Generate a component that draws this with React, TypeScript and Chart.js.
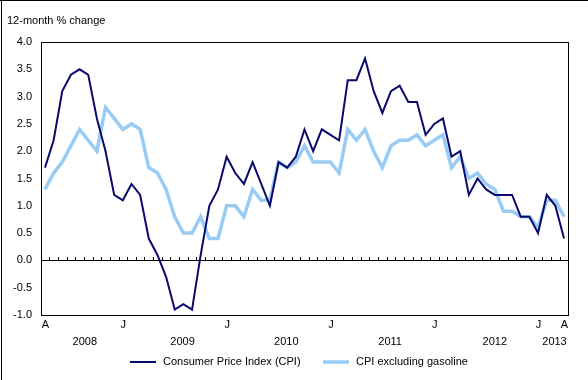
import React, { useEffect, useRef } from "react";
import { Chart, registerables } from "chart.js";

Chart.register(...registerables);

// Monthly values, April 2008 to April 2013 (12-month % change)
const cpi = [
  1.7, 2.2, 3.1, 3.4, 3.5, 3.4, 2.6, 2.0, 1.2,
  1.1, 1.4, 1.2, 0.4, 0.1, -0.3, -0.9, -0.8, -0.9, 0.1, 1.0, 1.3,
  1.9, 1.6, 1.4, 1.8, 1.4, 1.0, 1.8, 1.7, 1.9, 2.4, 2.0, 2.4,
  2.3, 2.2, 3.3, 3.3, 3.7, 3.1, 2.7, 3.1, 3.2, 2.9, 2.9, 2.3,
  2.5, 2.6, 1.9, 2.0, 1.2, 1.5, 1.3, 1.2, 1.2, 1.2, 0.8, 0.8,
  0.5, 1.2, 1.0, 0.4,
];
const cpiExGasoline = [
  1.3, 1.6, 1.8, 2.1, 2.4, 2.2, 2.0, 2.8, 2.6,
  2.4, 2.5, 2.4, 1.7, 1.6, 1.3, 0.8, 0.5, 0.5, 0.8, 0.4, 0.4,
  1.0, 1.0, 0.8, 1.3, 1.1, 1.1, 1.8, 1.7, 1.8, 2.1, 1.8, 1.8,
  1.8, 1.6, 2.4, 2.2, 2.4, 2.0, 1.7, 2.1, 2.2, 2.2, 2.3, 2.1,
  2.2, 2.3, 1.7, 1.9, 1.5, 1.6, 1.4, 1.3, 0.9, 0.9, 0.8, 0.8,
  0.6, 1.1, 1.1, 0.8,
];

const seriesNames = ["Consumer Price Index (CPI)", "CPI excluding gasoline"];
const seriesColors = ["#0a0a6e", "#99ccf5"];

// Month tick labels (index into monthly series)
const monthTickIndex = [0, 9, 21, 33, 45, 57, 60];
const monthTickText = ["A", "J", "J", "J", "J", "J", "A"];

// Year labels and their position along the month axis
const yearText = ["2008", "2009", "2010", "2011", "2012", "2013"];
const yearPos = [4.6, 15.9, 27.9, 39.9, 52.0, 58.9];

const yTitle = "12-month % change";
const FONT = "'Liberation Sans', Arial, sans-serif";

export default function App() {
  const ref = useRef<HTMLCanvasElement>(null);

  useEffect(() => {
    document.body.style.margin = "0";
    const canvas = ref.current;
    if (!canvas) return;

    const decor = {
      id: "decor",
      beforeDatasetsDraw(chart: any) {
        const { ctx, chartArea, scales } = chart;
        const { left, right, top, bottom } = chartArea;
        const x = scales.x;
        const y = scales.y;
        ctx.save();
        ctx.strokeStyle = "#000";
        ctx.lineWidth = 1;
        ctx.strokeRect(left + 0.5, top + 0.5, right - left, bottom - top);
        const y0 = Math.round(y.getPixelForValue(0)) + 0.5;
        ctx.beginPath();
        ctx.moveTo(left, y0);
        ctx.lineTo(right + 1, y0);
        for (let i = 0; i < cpi.length - 1; i++) {
          const px = Math.round(x.getPixelForValue(i + 0.5)) + 0.5;
          ctx.moveTo(px, y0);
          ctx.lineTo(px, y0 - 3.5);
        }
        ctx.stroke();
        ctx.restore();
      },
      afterDraw(chart: any) {
        const { ctx, scales } = chart;
        const x = scales.x;
        ctx.save();
        ctx.fillStyle = "#000";
        // image frame (left, top)
        ctx.fillRect(0, 0, 588, 1);
        ctx.fillRect(1, 0, 1, 380);
        ctx.font = `11px ${FONT}`;
        ctx.textBaseline = "middle";
        ctx.textAlign = "left";
        ctx.fillText(yTitle, 7, 21);
        ctx.textAlign = "center";
        monthTickIndex.forEach((v, i) => {
          ctx.fillText(monthTickText[i], x.getPixelForValue(v) + 0.5, 325);
        });
        yearText.forEach((t, i) => {
          ctx.fillText(t, x.getPixelForValue(yearPos[i]), 342);
        });
        // legend
        const legendX = [130, 323];
        const widths = [2, 3.5];
        ctx.textAlign = "left";
        seriesNames.forEach((name, i) => {
          ctx.strokeStyle = seriesColors[i];
          ctx.lineWidth = widths[i];
          ctx.beginPath();
          ctx.moveTo(legendX[i], 362);
          ctx.lineTo(legendX[i] + 26, 362);
          ctx.stroke();
          ctx.fillStyle = "#000";
          ctx.fillText(name, legendX[i] + 33, 362);
        });
        ctx.restore();
      },
    };

    const chart = new Chart(canvas, {
      type: "line",
      data: {
        datasets: [
          {
            label: seriesNames[0],
            data: cpi.map((v, i) => ({ x: i, y: v })),
            borderColor: seriesColors[0],
            backgroundColor: seriesColors[0],
            borderWidth: 2,
            pointRadius: 0,
            tension: 0,
          },
          {
            label: seriesNames[1],
            data: cpiExGasoline.map((v, i) => ({ x: i, y: v })),
            borderColor: seriesColors[1],
            backgroundColor: seriesColors[1],
            borderWidth: 3.5,
            pointRadius: 0,
            tension: 0,
          },
        ],
      },
      options: {
        responsive: false,
        animation: false,
        events: [],
        layout: { padding: { top: 42, right: 20, bottom: 65, left: 0 } },
        plugins: {
          legend: { display: false },
          tooltip: { enabled: false },
        },
        scales: {
          x: {
            type: "linear",
            display: false,
            min: -0.46,
            max: 60.46,
          },
          y: {
            type: "linear",
            min: -1,
            max: 4,
            afterFit(scale: any) {
              scale.width = 41;
            },
            grid: { display: false, drawTicks: false },
            border: { display: false },
            ticks: {
              stepSize: 0.5,
              padding: 9,
              color: "#000",
              font: { family: FONT, size: 11 },
              callback: (v: any) => Number(v).toFixed(1),
            },
          },
        },
      },
      plugins: [decor],
    });

    return () => chart.destroy();
  }, []);

  return (
    <div style={{ position: "fixed", left: 0, top: 0, width: 588, height: 380, background: "#fff" }}>
      <canvas ref={ref} width={588} height={380} />
    </div>
  );
}
